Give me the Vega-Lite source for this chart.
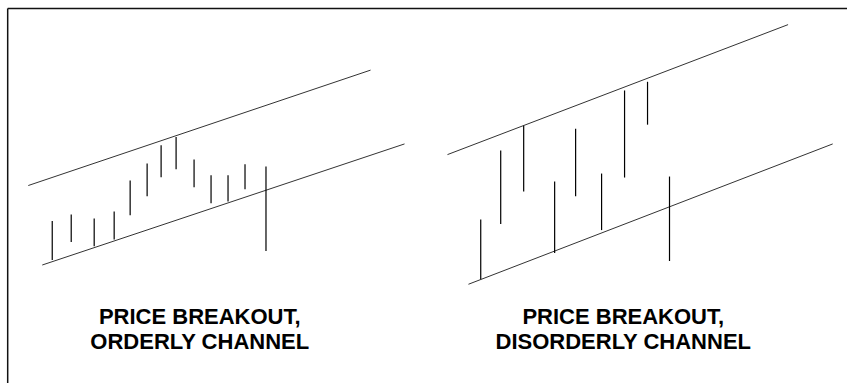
{
  "$schema": "https://vega.github.io/schema/vega-lite/v6.json",
  "width": 848,
  "height": 384,
  "autosize": {"type": "fit", "contains": "padding"},
  "padding": 0,
  "background": "white",
  "config": {"view": {"stroke": null}},
  "datasets": {
    "frame": [
      {"x": 7.7, "y": 375.5, "x2": 7.7, "y2": 0},
      {"x": 7.7, "y": 375.5, "x2": 848, "y2": 375.5}
    ],
    "channels": [
      {"panel": "orderly", "edge": "upper", "x": 28.3, "y": 198, "x2": 371, "y2": 313.7},
      {"panel": "orderly", "edge": "lower", "x": 42.3, "y": 118.3, "x2": 405, "y2": 239.7},
      {"panel": "disorderly", "edge": "upper", "x": 448, "y": 229, "x2": 789, "y2": 359.3},
      {"panel": "disorderly", "edge": "lower", "x": 469, "y": 99, "x2": 833.7, "y2": 239.7}
    ],
    "bars": [
      {"panel": "orderly", "x": 52.3, "low": 123.3, "high": 162.3},
      {"panel": "orderly", "x": 71.3, "low": 141.3, "high": 169},
      {"panel": "orderly", "x": 94.3, "low": 137, "high": 165},
      {"panel": "orderly", "x": 114.3, "low": 144, "high": 172},
      {"panel": "orderly", "x": 130.3, "low": 168.3, "high": 203},
      {"panel": "orderly", "x": 147.3, "low": 187.3, "high": 220},
      {"panel": "orderly", "x": 161.3, "low": 206.3, "high": 238.3},
      {"panel": "orderly", "x": 176.3, "low": 214.3, "high": 246.7},
      {"panel": "orderly", "x": 194.3, "low": 196.3, "high": 224},
      {"panel": "orderly", "x": 211.3, "low": 180.3, "high": 208.3},
      {"panel": "orderly", "x": 228.3, "low": 182, "high": 208.3},
      {"panel": "orderly", "x": 245.3, "low": 194.3, "high": 219.3},
      {"panel": "orderly", "x": 266.3, "low": 132.3, "high": 217},
      {"panel": "disorderly", "x": 481.3, "low": 104, "high": 164},
      {"panel": "disorderly", "x": 501.3, "low": 159.3, "high": 233},
      {"panel": "disorderly", "x": 524.3, "low": 192, "high": 258},
      {"panel": "disorderly", "x": 555.3, "low": 130.3, "high": 202},
      {"panel": "disorderly", "x": 576.3, "low": 187.3, "high": 255},
      {"panel": "disorderly", "x": 602.3, "low": 153.3, "high": 210},
      {"panel": "disorderly", "x": 625.3, "low": 206, "high": 293.3},
      {"panel": "disorderly", "x": 648.3, "low": 259, "high": 302},
      {"panel": "disorderly", "x": 670.3, "low": 122.3, "high": 207}
    ],
    "labels": [
      {"x": 200, "y": 59, "label": "PRICE BREAKOUT,\nORDERLY CHANNEL"},
      {"x": 624, "y": 59, "label": "PRICE BREAKOUT,\nDISORDERLY CHANNEL"}
    ]
  },
  "layer": [
    {
      "data": {"name": "frame"},
      "mark": {"type": "rule", "stroke": "#111111", "strokeWidth": 1.5},
      "encoding": {
        "x": {"field": "x", "type": "quantitative", "scale": {"domain": [0, 848]}, "axis": null},
        "y": {"field": "y", "type": "quantitative", "scale": {"domain": [0, 384]}, "axis": null},
        "x2": {"field": "x2"},
        "y2": {"field": "y2"}
      }
    },
    {
      "data": {"name": "channels"},
      "mark": {"type": "rule", "stroke": "#333333", "strokeWidth": 1},
      "encoding": {
        "x": {"field": "x", "type": "quantitative", "scale": {"domain": [0, 848]}, "axis": null},
        "y": {"field": "y", "type": "quantitative", "scale": {"domain": [0, 384]}, "axis": null},
        "x2": {"field": "x2"},
        "y2": {"field": "y2"}
      }
    },
    {
      "data": {"name": "bars"},
      "mark": {"type": "rule", "stroke": "#000000", "strokeWidth": 1.2},
      "encoding": {
        "x": {"field": "x", "type": "quantitative", "scale": {"domain": [0, 848]}, "axis": null},
        "y": {"field": "low", "type": "quantitative", "scale": {"domain": [0, 384]}, "axis": null},
        "y2": {"field": "high"}
      }
    },
    {
      "data": {"name": "labels"},
      "mark": {"type": "text", "font": "Liberation Sans", "fontWeight": "bold", "fontSize": 22, "lineHeight": 25, "lineBreak": "\n", "align": "center", "baseline": "alphabetic", "color": "#000000"},
      "encoding": {
        "x": {"field": "x", "type": "quantitative", "scale": {"domain": [0, 848]}, "axis": null},
        "y": {"field": "y", "type": "quantitative", "scale": {"domain": [0, 384]}, "axis": null},
        "text": {"field": "label", "type": "nominal"}
      }
    }
  ]
}
